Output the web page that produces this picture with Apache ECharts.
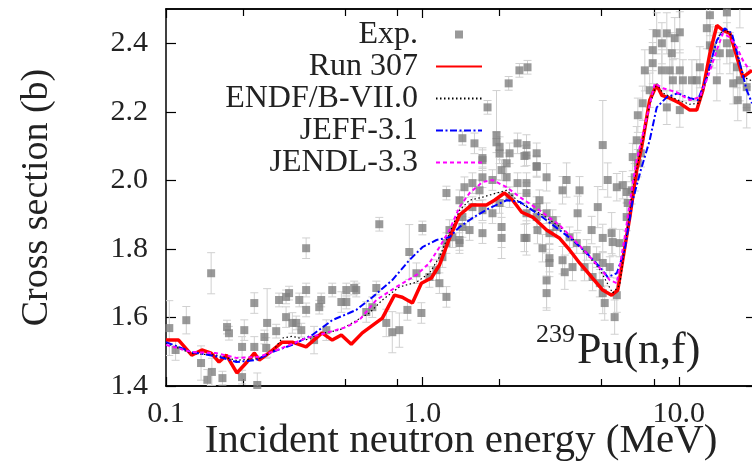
<!DOCTYPE html>
<html>
<head>
<meta charset="utf-8">
<script src="https://cdn.jsdelivr.net/npm/echarts@6.0.0/dist/echarts.min.js"></script>
<style>
  html, body { margin: 0; padding: 0; background: #fff; }
  #chart { width: 752px; height: 467px; }
</style>
</head>
<body>
<div id="chart"></div>
<script>
const serif = "'Liberation Serif', 'Times New Roman', serif";

// axis ticks
const xMajorTicks = [0.1, 1, 10];
const xMinorTicks = [0.2, 0.5, 0.8, 2, 5, 8];
const yTicks = [1.4, 1.6, 1.8, 2.0, 2.2, 2.4];

// experimental points: energy (MeV), cross section (b), error (b)
const expE = [
  0.103, 0.109, 0.120, 0.137, 0.145, 0.150, 0.151, 0.166, 0.173, 0.176,
  0.198, 0.202, 0.198, 0.221, 0.221, 0.227, 0.242, 0.248, 0.246, 0.269,
  0.276, 0.294, 0.302, 0.294, 0.311, 0.322, 0.331, 0.337, 0.352, 0.352,
  0.352, 0.396, 0.403, 0.445, 0.483, 0.505, 0.552, 0.378, 0.422, 0.679,
  1.00, 1.241, 0.542, 0.661, 0.505, 0.604, 0.638, 0.723, 0.763, 0.813,
  0.874, 0.991, 0.889, 0.948, 1.065, 1.165, 1.241, 1.135, 1.197, 1.241,
  1.275, 1.309, 1.395, 1.432, 1.432, 1.395, 1.459, 1.567, 1.67, 1.715,
  1.876, 2.036, 2.13, 2.13, 1.715, 2.00, 2.547, 2.35, 2.188, 2.00,
  2.036, 2.036, 2.50, 2.547, 2.79, 1.567, 1.715, 1.876, 2.79, 2.79,
  3.05, 3.65, 3.52, 4.10, 4.03, 2.547, 2.547, 2.86, 2.79, 3.05,
  3.22, 2.547, 2.81, 3.13, 3.34, 3.75, 4.00, 4.37, 4.78, 5.05,
  5.38, 4.83, 4.57, 5.28, 5.73, 6.04, 5.52, 5.88, 5.05, 2.94,
  3.13, 3.52, 3.05, 3.85, 4.29, 4.61, 4.92, 5.14, 5.62, 5.73,
  6.26, 6.32, 6.55, 6.73, 6.92, 7.11, 6.26, 5.05, 6.61, 6.85,
  6.92, 7.23, 7.37, 7.91, 8.20, 8.98, 9.64, 10.09, 8.59, 9.39,
  7.91, 8.59, 9.22, 10.09, 9.48, 10.37, 11.25, 12.08, 11.75, 7.70,
  8.98, 10.09, 13.22, 15.4, 17.3, 12.86, 13.22, 14.45, 15.4, 15.82,
  16.86, 17.3, 18.4, 16.98, 18.4, 16.3, 14.07, 13.5, 2.39, 2.57,
  2.17, 1.795, 1.432, 1.596, 1.945, 1.945, 2.00, 2.188, 2.35, 2.547,
  2.50, 2.79, 1.715, 3.13, 3.05, 3.59, 5.47, 5.05, 1.395, 1.527,
  1.715
];
const expXS = [
  1.569, 1.505, 1.592, 1.467, 1.418, 1.729, 1.441, 1.423, 1.572, 1.554,
  1.514, 1.563, 1.426, 1.642, 1.514, 1.403, 1.543, 1.584, 1.511, 1.560,
  1.651, 1.660, 1.671, 1.601, 1.584, 1.584, 1.651, 1.563, 1.802, 1.680,
  1.622, 1.630, 1.651, 1.680, 1.645, 1.680, 1.680, 1.534, 1.563, 1.872,
  1.861, 1.963, 1.686, 1.686, 1.645, 1.616, 1.630, 1.584, 1.557, 1.563,
  1.622, 1.613, 1.791, 1.729, 1.718, 1.700, 1.660, 1.738, 1.776, 1.817,
  1.855, 1.834, 1.817, 1.864, 1.893, 1.942, 1.980, 1.992, 1.971, 2.009,
  2.001, 2.030, 2.050, 2.009, 2.059, 2.079, 2.073, 1.992, 1.951, 1.934,
  1.864, 1.832, 1.832, 1.904, 1.893, 1.922, 1.913, 1.904, 2.079, 2.039,
  2.009, 2.001, 1.971, 1.971, 1.904, 1.992, 1.963, 1.942, 1.922, 1.904,
  1.884, 1.832, 1.855, 1.846, 1.864, 1.834, 1.817, 1.797, 1.776, 1.759,
  1.747, 1.922, 1.855, 2.001, 1.980, 1.986, 1.820, 1.817, 1.832, 1.802,
  1.773, 1.767, 1.671, 1.747, 1.747, 1.718, 1.700, 1.642, 1.601, 1.665,
  1.893, 1.934, 1.971, 2.009, 2.050, 2.079, 1.966, 2.103, 2.068, 2.117,
  2.190, 2.225, 2.321, 2.342, 2.429, 2.429, 2.415, 2.432, 2.400, 2.371,
  2.380, 2.321, 2.321, 2.321, 2.292, 2.292, 2.292, 2.330, 2.292, 2.263,
  2.213, 2.205, 2.482, 2.490, 2.505, 2.444, 2.394, 2.371, 2.400, 2.371,
  2.330, 2.292, 2.272, 2.234, 2.213, 2.283, 2.292, 2.388, 2.321, 2.330,
  2.283, 2.213, 2.123, 2.108, 2.132, 2.111, 2.097, 2.079, 2.108, 2.103,
  2.071, 2.042, 2.065, 1.759, 1.708, 1.732, 1.846, 1.671, 1.826, 1.855,
  1.846
];
const expErr = [
  0.08, 0.03, 0.04, 0.05, 0.03, 0.06, 0.04, 0.02, 0.02, 0.02,
  0.03, 0.03, 0.02, 0.03, 0.03, 0.035, 0.02, 0.10, 0.03, 0.02,
  0.02, 0.02, 0.02, 0.03, 0.03, 0.02, 0.02, 0.02, 0.03, 0.02,
  0.02, 0.02, 0.02, 0.02, 0.03, 0.02, 0.02, 0.04, 0.03, 0.02,
  0.02, 0.02, 0.02, 0.02, 0.02, 0.03, 0.03, 0.04, 0.06, 0.05,
  0.03, 0.03, 0.08, 0.03, 0.03, 0.03, 0.03, 0.03, 0.03, 0.03,
  0.03, 0.03, 0.03, 0.03, 0.03, 0.03, 0.03, 0.03, 0.03, 0.03,
  0.03, 0.03, 0.03, 0.03, 0.03, 0.03, 0.03, 0.03, 0.03, 0.03,
  0.06, 0.06, 0.04, 0.03, 0.03, 0.03, 0.03, 0.03, 0.03, 0.03,
  0.04, 0.05, 0.04, 0.04, 0.05, 0.03, 0.03, 0.03, 0.03, 0.03,
  0.03, 0.05, 0.04, 0.03, 0.03, 0.03, 0.03, 0.03, 0.03, 0.03,
  0.03, 0.06, 0.04, 0.05, 0.04, 0.04, 0.04, 0.04, 0.04, 0.04,
  0.04, 0.04, 0.05, 0.04, 0.04, 0.04, 0.04, 0.05, 0.05, 0.05,
  0.04, 0.04, 0.04, 0.04, 0.04, 0.04, 0.03, 0.13, 0.04, 0.04,
  0.05, 0.05, 0.06, 0.06, 0.06, 0.06, 0.06, 0.06, 0.06, 0.06,
  0.06, 0.06, 0.06, 0.06, 0.06, 0.06, 0.06, 0.06, 0.06, 0.05,
  0.05, 0.05, 0.06, 0.06, 0.06, 0.06, 0.06, 0.06, 0.06, 0.06,
  0.06, 0.06, 0.06, 0.06, 0.06, 0.06, 0.06, 0.06, 0.02, 0.02,
  0.02, 0.02, 0.02, 0.03, 0.13, 0.03, 0.03, 0.03, 0.03, 0.03,
  0.03, 0.03, 0.03, 0.04, 0.08, 0.05, 0.06, 0.06, 0.03, 0.03,
  0.03
];

// Run 307
const runE = [
  0.1, 0.112, 0.126, 0.138, 0.150, 0.161, 0.172, 0.189, 0.207, 0.221,
  0.231, 0.252, 0.284, 0.311, 0.352, 0.406, 0.445, 0.483, 0.528, 0.583,
  0.698, 0.778, 0.835, 0.914, 0.991, 1.084, 1.165, 1.275, 1.395, 1.553,
  1.778, 1.91, 2.09, 2.25, 2.44, 2.69, 2.86, 3.05, 3.43, 3.75,
  4.10, 4.57, 5.05, 5.47, 5.78, 6.04, 6.44, 6.85, 7.17, 7.70,
  8.20, 8.59, 9.22, 10.09, 11.04, 11.75, 12.41, 13.22, 14.07, 14.86,
  15.82, 16.86, 17.78, 19.3
];
const runXS = [
  1.534, 1.534, 1.490, 1.505, 1.496, 1.470, 1.490, 1.438, 1.470, 1.496,
  1.476, 1.496, 1.528, 1.528, 1.514, 1.555, 1.534, 1.549, 1.522, 1.555,
  1.598, 1.665, 1.659, 1.642, 1.700, 1.715, 1.753, 1.831, 1.899, 1.928,
  1.928, 1.942, 1.963, 1.942, 1.907, 1.893, 1.875, 1.855, 1.831, 1.797,
  1.759, 1.718, 1.680, 1.665, 1.680, 1.767, 1.893, 2.030, 2.100, 2.234,
  2.278, 2.248, 2.240, 2.225, 2.205, 2.205, 2.263, 2.371, 2.452, 2.438,
  2.429, 2.359, 2.301, 2.321
];

// ENDF/B-VII.0
const endfE = [
  0.1, 0.126, 0.157, 0.188, 0.231, 0.26, 0.284, 0.311, 0.352, 0.40,
  0.474, 0.533, 0.621, 0.698, 0.813, 0.948, 1.065, 1.165, 1.275, 1.395,
  1.527, 1.715, 1.945, 2.13, 2.40, 2.69, 2.86, 3.43, 3.85, 4.37,
  4.92, 5.52, 5.88, 6.15, 6.61, 7.23, 7.70, 8.20, 8.66, 9.22,
  10.09, 11.04, 12.0, 12.9, 13.7, 14.5, 15.3, 16.1, 17.0, 18.0,
  19.3
];
const endfXS = [
  1.525, 1.495, 1.490, 1.475, 1.480, 1.500, 1.540, 1.545, 1.535, 1.553,
  1.563, 1.584, 1.613, 1.651, 1.689, 1.703, 1.729, 1.776, 1.846, 1.913,
  1.942, 1.951, 1.963, 1.971, 1.934, 1.913, 1.905, 1.865, 1.830, 1.785,
  1.740, 1.671, 1.695, 1.800, 1.980, 2.117, 2.220, 2.283, 2.255, 2.245,
  2.232, 2.222, 2.225, 2.300, 2.380, 2.430, 2.440, 2.420, 2.360, 2.300,
  2.290
];

// JEFF-3.1
const jeffE = [
  0.1, 0.126, 0.161, 0.188, 0.225, 0.259, 0.311, 0.372, 0.445, 0.518,
  0.552, 0.638, 0.763, 0.889, 1.0, 1.135, 1.275, 1.395, 1.567, 1.827,
  2.13, 2.40, 2.86, 3.43, 3.85, 4.37, 4.92, 5.28, 5.73, 6.15,
  6.61, 7.11, 7.70, 8.20, 8.98, 9.91, 11.04, 11.86, 12.86, 14.07,
  15.1, 16.1, 17.3, 18.4, 19.3
];
const jeffXS = [
  1.528, 1.499, 1.485, 1.470, 1.476, 1.499, 1.520, 1.549, 1.592, 1.613,
  1.622, 1.659, 1.709, 1.767, 1.805, 1.826, 1.834, 1.864, 1.890, 1.919,
  1.942, 1.937, 1.899, 1.855, 1.826, 1.788, 1.747, 1.718, 1.729, 1.797,
  1.942, 2.030, 2.117, 2.213, 2.243, 2.254, 2.240, 2.234, 2.301, 2.409,
  2.444, 2.429, 2.342, 2.263, 2.225
];

// JENDL-3.3
const jendlE = [
  0.1, 0.126, 0.157, 0.188, 0.231, 0.284, 0.352, 0.422, 0.505, 0.567,
  0.661, 0.791, 0.948, 1.065, 1.165, 1.275, 1.395, 1.527, 1.715, 1.876,
  2.13, 2.40, 2.86, 3.43, 3.85, 4.37, 4.92, 5.38, 5.73, 6.15,
  6.61, 6.85, 7.50, 8.06, 8.66, 9.82, 11.04, 12.08, 12.97, 14.07,
  14.86, 15.82, 16.86, 17.78, 18.9
];
const jendlXS = [
  1.520, 1.499, 1.496, 1.482, 1.485, 1.511, 1.540, 1.555, 1.572, 1.592,
  1.651, 1.689, 1.724, 1.759, 1.805, 1.855, 1.922, 1.963, 1.995, 2.001,
  1.980, 1.951, 1.913, 1.869, 1.831, 1.788, 1.744, 1.709, 1.700, 1.834,
  1.992, 2.059, 2.184, 2.283, 2.269, 2.257, 2.234, 2.243, 2.301, 2.380,
  2.429, 2.417, 2.388, 2.350, 2.321
];

function pairs(xs, ys) {
  return xs.map((x, i) => [x, ys[i]]);
}

function renderErrorBar(params, api) {
  const e = api.value(0);
  const v = api.value(1);
  const err = api.value(2);
  const lo = api.coord([e, v - err]);
  const hi = api.coord([e, v + err]);
  const cap = 4;
  const style = { stroke: "#d0d0d0", lineWidth: 1 };
  return {
    type: "group",
    children: [
      { type: "line", shape: { x1: lo[0], y1: lo[1], x2: hi[0], y2: hi[1] }, style },
      { type: "line", shape: { x1: lo[0] - cap, y1: lo[1], x2: lo[0] + cap, y2: lo[1] }, style },
      { type: "line", shape: { x1: hi[0] - cap, y1: hi[1], x2: hi[0] + cap, y2: hi[1] }, style },
    ],
  };
}

function xAxisDef(position, ticks, tickLength, withLabels) {
  return {
    type: "log",
    logBase: 10,
    min: 0.1,
    max: 20,
    position,
    axisLine: { show: true, lineStyle: { color: "#000", width: 1.5 } },
    axisTick: { show: true, inside: true, length: tickLength, customValues: ticks, lineStyle: { color: "#000", width: 1.2 } },
    axisLabel: withLabels
      ? {
          customValues: xMajorTicks,
          formatter: (v) => Number(v).toFixed(1),
          color: "#222",
          fontFamily: serif,
          fontSize: 30,
          margin: 13,
        }
      : { show: false },
    splitLine: { show: false },
  };
}

function yAxisDef(position, withLabels) {
  return {
    type: "value",
    min: 1.4,
    max: 2.5,
    position,
    axisLine: { show: true, lineStyle: { color: "#000", width: 1.5 } },
    axisTick: { show: true, inside: true, length: 10, customValues: yTicks, lineStyle: { color: "#000", width: 1.2 } },
    axisLabel: withLabels
      ? {
          customValues: yTicks,
          formatter: (v) => Number(v).toFixed(1),
          color: "#222",
          fontFamily: serif,
          fontSize: 30,
          margin: 18,
        }
      : { show: false },
    splitLine: { show: false },
  };
}

const chart = echarts.init(document.getElementById("chart"), null, { renderer: "canvas" });

const bottomAxis = xAxisDef("bottom", xMajorTicks, 9, true);
bottomAxis.name = "Incident neutron energy (MeV)";
bottomAxis.nameLocation = "middle";
bottomAxis.nameGap = 35;
bottomAxis.nameMoveOverlap = false;
bottomAxis.nameTextStyle = { fontFamily: serif, fontSize: 41, color: "#222", lineHeight: 41 };

const leftAxis = yAxisDef("left", true);
leftAxis.name = "Cross section (b)";
leftAxis.nameLocation = "middle";
leftAxis.nameGap = 110;
leftAxis.nameTextStyle = { fontFamily: serif, fontSize: 38, color: "#222", lineHeight: 38 };

// line entries in the legend show only the line sample
const noSymbol = { opacity: 0 };

chart.setOption({
  animation: false,
  backgroundColor: "#fff",
  grid: { left: 166, right: -4, top: 9, bottom: 81, containLabel: false, outerBoundsMode: "none" },
  xAxis: [
    bottomAxis,
    xAxisDef("bottom", xMinorTicks, 7, false),
    xAxisDef("top", xMajorTicks, 9, false),
    xAxisDef("top", xMinorTicks, 7, false),
  ],
  yAxis: [leftAxis, yAxisDef("right", false)],
  legend: {
    orient: "vertical",
    align: "right",
    right: 269,
    top: 18.5,
    padding: 0,
    itemGap: 0,
    itemWidth: 46,
    itemHeight: 8,
    textStyle: { fontFamily: serif, fontSize: 32, color: "#222", lineHeight: 25, padding: [0, 13, 0, 0] },
    data: [
      { name: "Exp.", icon: "path://M0,0H10V10H0Z" },
      { name: "Run 307", itemStyle: noSymbol },
      { name: "ENDF/B-VII.0", itemStyle: noSymbol },
      { name: "JEFF-3.1", itemStyle: noSymbol },
      { name: "JENDL-3.3", itemStyle: noSymbol },
    ],
  },
  graphic: [
    {
      type: "text",
      x: 575,
      y: 335,
      style: { text: "239", fontFamily: serif, fontSize: 26, fill: "#222", align: "right", verticalAlign: "middle" },
    },
    {
      type: "text",
      x: 577,
      y: 351,
      style: { text: "Pu(n,f)", fontFamily: serif, fontSize: 44, fill: "#222", align: "left", verticalAlign: "middle" },
    },
  ],
  series: [
    {
      name: "errors",
      type: "custom",
      renderItem: renderErrorBar,
      data: expE.map((e, i) => [e, expXS[i], expErr[i]]),
      encode: { x: 0, y: 1 },
      clip: true,
      silent: true,
      z: 1,
    },
    {
      name: "Exp.",
      type: "scatter",
      data: pairs(expE, expXS),
      symbol: "rect",
      symbolSize: 8,
      itemStyle: { color: "#7f7f7f" },
      z: 2,
    },
    {
      name: "Run 307",
      type: "line",
      data: pairs(runE, runXS),
      symbol: "none",
      lineStyle: { color: "#ff0000", width: 3.5 },
      itemStyle: { color: "#ff0000" },
      z: 3,
    },
    {
      name: "ENDF/B-VII.0",
      type: "line",
      data: pairs(endfE, endfXS),
      symbol: "none",
      lineStyle: { color: "#000", width: 1.2, type: [1.5, 2.5] },
      itemStyle: { color: "#000" },
      z: 4,
    },
    {
      name: "JEFF-3.1",
      type: "line",
      data: pairs(jeffE, jeffXS),
      symbol: "none",
      lineStyle: { color: "#0000ff", width: 2, type: [7, 2.5, 2, 2.5] },
      itemStyle: { color: "#0000ff" },
      z: 5,
    },
    {
      name: "JENDL-3.3",
      type: "line",
      data: pairs(jendlE, jendlXS),
      symbol: "none",
      lineStyle: { color: "#ff00ff", width: 2, type: [4, 3] },
      itemStyle: { color: "#ff00ff" },
      z: 6,
    },
  ],
});
</script>
</body>
</html>
